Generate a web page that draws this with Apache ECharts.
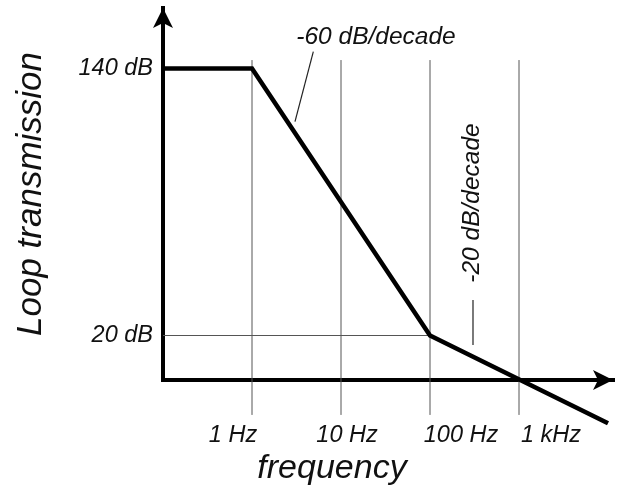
<!DOCTYPE html>
<html>
<head>
<meta charset="utf-8">
<script src="https://cdn.jsdelivr.net/npm/echarts@6/dist/echarts.min.js"></script>
<style>html,body{margin:0;padding:0;background:#fff;}#c{width:617px;height:487px;}</style>
</head>
<body>
<div id="c"></div>
<script>
// log10(frequency in Hz) and loop transmission in dB
var curveLogF = [-1, 0, 2, 4.0];
var curveDb = [140, 140, 20, -19.4];
var tickLogF = [0, 1, 2, 3];
var tickLabels = ['1 Hz', '10 Hz', '100 Hz', '1 kHz'];
var yTickDb = [20, 140];
var yTickLabels = ['20 dB', '140 dB'];
var gridLineTopDb = 143.8;
var gridLineBottomDb = -15.7;
var refLineDb = 20;           // horizontal thin line at 20 dB up to 100 Hz
var refLineEndLogF = 2;
var leader60 = [[0.689, 147.6], [0.483, 116.1]];
var leader20 = [[2.483, 36.0], [2.483, 15.7]];
var slopeLabels = ['-60 dB/decade', '-20 dB/decade'];

var FONT = 'Liberation Sans, Arial, sans-serif';
var TXT = '#111';
var labelShift = {'1 Hz': [0, 38, 0, 0], '10 Hz': [0, 0, 0, 12], '100 Hz': [0, 0, 0, 62], '1 kHz': [0, 0, 0, 64]};

var series = [];
// vertical grid lines
tickLogF.forEach(function (x) {
  series.push({
    type: 'line', silent: true, clip: false, symbol: 'none',
    data: [[x, gridLineBottomDb], [x, gridLineTopDb]],
    lineStyle: {color: '#555', width: 1}, z: 1
  });
});
series.push({
  type: 'line', silent: true, clip: false, symbol: 'none',
  data: [[curveLogF[0], refLineDb], [refLineEndLogF, refLineDb]],
  lineStyle: {color: '#555', width: 1}, z: 1
});
series.push({
  type: 'line', silent: true, clip: false, symbol: 'none',
  data: leader60, lineStyle: {color: '#222', width: 1.2}, z: 2
});
series.push({
  type: 'line', silent: true, clip: false, symbol: 'none',
  data: leader20, lineStyle: {color: '#222', width: 1.2}, z: 2
});
series.push({
  type: 'line', silent: true, clip: false, symbol: 'none',
  data: curveLogF.map(function (x, i) { return [x, curveDb[i]]; }),
  lineStyle: {color: '#000', width: 4.5, join: 'miter', cap: 'butt'}, z: 5
});

var rich = {};
tickLabels.forEach(function (t, i) {
  rich['l' + i] = {fontSize: 23.5, fontStyle: 'italic', fontFamily: FONT, color: TXT, padding: labelShift[t]};
});

var chart = echarts.init(document.getElementById('c'), null, {renderer: 'canvas'});
chart.setOption({
  animation: false,
  backgroundColor: '#fff',
  grid: {left: 163, right: 4, top: 8, bottom: 107, containLabel: false, outerBoundsMode: 'none'},
  xAxis: {
    type: 'value', min: -1, max: 4.056, interval: 1,
    axisLine: {onZero: false, symbol: ['none', 'arrow'], symbolSize: [15, 20],
      lineStyle: {color: '#000', width: 4, cap: 'square'}},
    axisTick: {show: false},
    splitLine: {show: false},
    axisLabel: {
      margin: 44,
      formatter: function (v) {
        var i = tickLogF.indexOf(Math.round(v * 1000) / 1000);
        return i < 0 ? '' : '{l' + i + '|' + tickLabels[i] + '}';
      },
      rich: rich
    },
    name: 'frequency', nameLocation: 'middle', nameGap: 71,
    nameTextStyle: {fontSize: 34, fontStyle: 'italic', fontFamily: FONT, color: TXT, padding: [0, 112, 0, 0]}
  },
  yAxis: {
    type: 'value', min: 0, max: 167.2, interval: 20,
    axisLine: {onZero: false, symbol: ['none', 'arrow'], symbolSize: [15, 20],
      lineStyle: {color: '#000', width: 4, cap: 'square'}},
    axisTick: {show: false},
    splitLine: {show: false},
    axisLabel: {
      margin: 10, fontSize: 23.5, fontStyle: 'italic', fontFamily: FONT, color: TXT,
      formatter: function (v) {
        var i = yTickDb.indexOf(v);
        return i < 0 ? '' : yTickLabels[i];
      }
    },
    name: 'Loop transmission', nameLocation: 'middle', nameGap: 114, nameRotate: 90,
    nameTextStyle: {fontSize: 35, fontStyle: 'italic', fontFamily: FONT, color: TXT}
  },
  graphic: [
    {type: 'text', x: 376, y: 37, style: {text: slopeLabels[0], x: 0, y: 0, align: 'center', verticalAlign: 'middle',
      font: 'italic 24.5px ' + FONT, fill: TXT}},
    {type: 'text', x: 472, y: 203, rotation: Math.PI / 2, style: {text: slopeLabels[1], x: 0, y: 0, align: 'center', verticalAlign: 'middle',
      font: 'italic 24.5px ' + FONT, fill: TXT}}
  ],
  series: series
});
</script>
</body>
</html>
